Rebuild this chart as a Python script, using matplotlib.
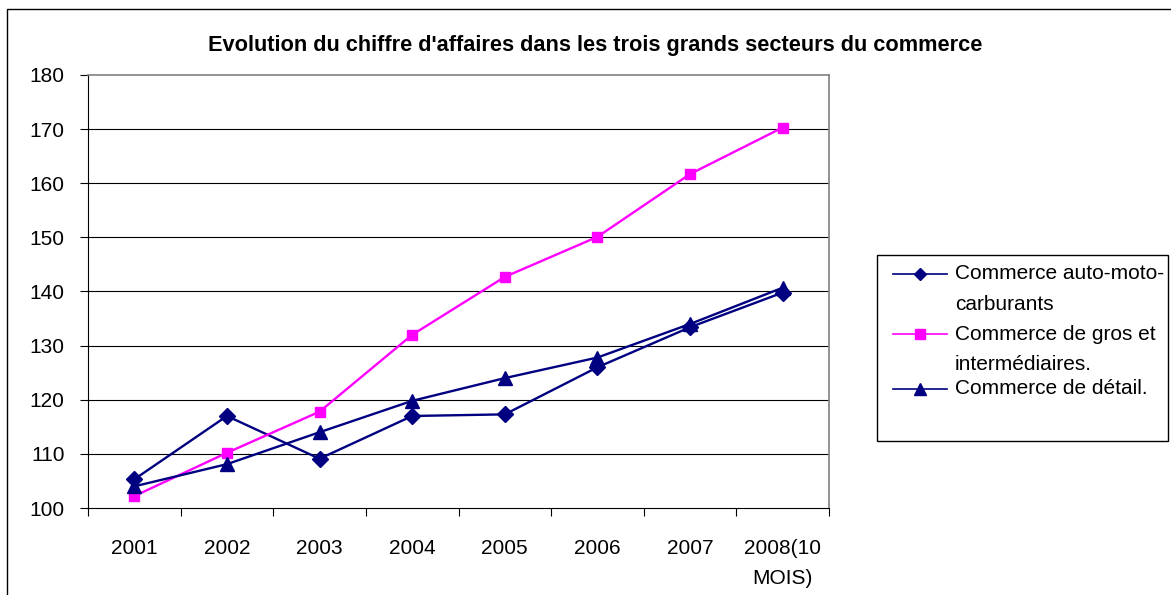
import matplotlib
matplotlib.use("Agg")
import matplotlib.pyplot as plt
from matplotlib.patches import Rectangle
from matplotlib.lines import Line2D

plt.rcParams['font.family'] = ['Liberation Sans', 'DejaVu Sans']

annees = ["2001", "2002", "2003", "2004", "2005", "2006", "2007", "2008(10\nMOIS)"]
auto_moto = [105.3, 117.0, 109.1, 117.0, 117.3, 126.0, 133.4, 139.8]
gros = [102.2, 110.2, 117.8, 132.0, 142.7, 150.1, 161.7, 170.3]
detail = [104.0, 108.1, 114.0, 119.8, 124.0, 127.8, 134.0, 140.7]
noms = [["Commerce auto-moto-", "carburants"], ["Commerce de gros et", "intermédiaires."], ["Commerce de détail."]]

W, H = 1171, 595
fig = plt.figure(figsize=(W / 100, H / 100), dpi=100)

def fx(px):
    return px / W

def fy(py):
    return 1 - py / H

# cadre general
fig.patches.append(Rectangle((fx(7), fy(600)), fx(1175) - fx(7), fy(9) - fy(600),
                             transform=fig.transFigure, fill=False, edgecolor="black", lw=1))

ax = fig.add_axes([fx(88), fy(508), fx(829) - fx(88), fy(75) - fy(508)])
x = list(range(len(annees)))
navy = "#000080"
ax.plot(x, auto_moto, color=navy, lw=1.7, marker="D", ms=8, zorder=3)
ax.plot(x, gros, color="#FF00FF", lw=1.7, marker="s", ms=7.5, zorder=3)
ax.plot(x, detail, color=navy, lw=1.7, marker="^", ms=9.5, zorder=3)

ax.set_xlim(-0.5, len(annees) - 0.5)
ax.set_ylim(100, 180)
ax.set_yticks(range(100, 181, 10))
ax.set_xticks([i - 0.5 for i in range(len(annees) + 1)])
ax.set_xticklabels([])
ax.set_xticks(x, minor=True)
ax.set_xticklabels(annees, minor=True)
ax.tick_params(axis="x", which="minor", length=0, pad=22, labelsize=15)
ax.tick_params(axis="x", which="major", length=6, width=0.8, direction="out")
ax.tick_params(axis="y", length=6, width=0.8, direction="out", pad=11, labelsize=15)
for t in ax.get_xticklabels(minor=True):
    t.set_linespacing(1.75)

for v in range(110, 180, 10):
    ax.axhline(v, color="black", lw=0.8, zorder=1)
ax.spines["top"].set_color("#808080")
ax.spines["right"].set_color("#808080")
ax.spines["top"].set_linewidth(1.2)
ax.spines["right"].set_linewidth(1.2)
ax.spines["left"].set_linewidth(0.8)
ax.spines["bottom"].set_linewidth(0.8)

fig.text(fx(595), fy(45), "Evolution du chiffre d'affaires dans les trois grands secteurs du commerce",
         ha="center", va="center", fontsize=15.7, fontweight="bold")

# legende
fig.patches.append(Rectangle((fx(877), fy(441)), fx(1168) - fx(877), fy(255) - fy(441),
                             transform=fig.transFigure, fill=False, edgecolor="black", lw=1))
styles = [(navy, "D", 6), ("#FF00FF", "s", 6.5), (navy, "^", 8)]
lignes_y = [274, 334, 389]
for (c, m, s), nom, yy in zip(styles, noms, lignes_y):
    fig.lines.append(Line2D([fx(893), fx(947)], [fy(yy), fy(yy)], color=c, lw=1.2,
                            transform=fig.transFigure))
    fig.lines.append(Line2D([fx(920)], [fy(yy)], color=c, marker=m, ms=s, lw=0,
                            transform=fig.transFigure))
    for k, ligne in enumerate(nom):
        fig.text(fx(955), fy(yy + 31 * k), ligne, ha="left", va="center", fontsize=15)

fig.savefig("out.png", dpi=100)
